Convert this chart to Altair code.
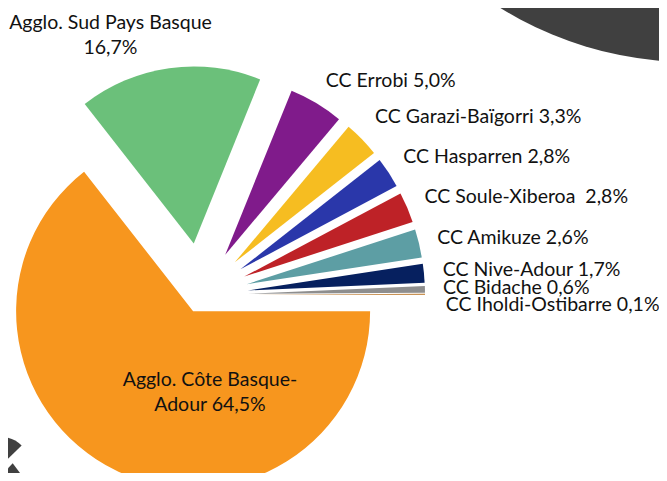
import math
import altair as alt
import pandas as pd

# ---------------- data ----------------
names = [
    "Agglo. Côte Basque-\nAdour",
    "Agglo. Sud Pays Basque",
    "CC Errobi",
    "CC Garazi-Baïgorri",
    "CC Hasparren",
    "CC Soule-Xiberoa\u00a0",
    "CC Amikuze",
    "CC Nive-Adour",
    "CC Bidache",
    "CC Iholdi-Ostibarre",
]
shares = [64.5, 16.7, 5.0, 3.3, 2.8, 2.8, 2.6, 1.7, 0.6, 0.1]
share_labels = ["64,5%", "16,7%", "5,0%", "3,3%", "2,8%", "2,8%", "2,6%", "1,7%", "0,6%", "0,1%"]

# ---------------- styles ----------------
colors = ["#F7961E", "#6BC07A", "#801B8B", "#F6BD21", "#2A37AA", "#BE2227",
          "#5D9EA4", "#06205F", "#8E8E8E", "#B8701E"]
explode = [18, 52, 47, 47, 47, 47, 47, 47, 47, 47]          # px, along mid-angle
label_r = [85.5, 286.7, 248, 249, 245, 244, 243, 243, 242, 245]  # px from pie centre
label_dtheta = [-32.0, -10.4, -0.8, -1.6, -1.25, -0.65, -0.3, -0.35, -0.25, 2.5]
label_sep = [" ", "\n"] + [" "] * 8
label_align = ["center", "center"] + ["left"] * 8
CX, CY, R = 193, 287, 177
FONT = "Lato"
FONT_SIZE = 19.5

df = pd.DataFrame({
    "idx": list(range(len(names))),
    "name": names,
    "share": shares,
    "slabel": share_labels,
    "col": colors,
    "explode": explode,
    "lr": label_r,
    "dth": label_dtheta,
    "sep": label_sep,
    "anchor": label_align,
})

# decoration (slide background shapes)
bg_circle = pd.DataFrame({"cx": [682], "cy": [-306]})
logo = pd.DataFrame({
    "cx": [-6.5, 4.7],
    "cy": [457, 455.3],
    "t0": [-2, 143],
    "t1": [46, 224],
})

base = alt.Chart(df).transform_joinaggregate(
    total="sum(share)"
).transform_window(
    cum="sum(share)", sort=[alt.SortField("idx")], frame=[None, 0]
).transform_calculate(
    start="(datum.cum - datum.share) / datum.total * 2 * PI + PI / 2",
    end="datum.cum / datum.total * 2 * PI + PI / 2",
).transform_calculate(
    mid="(datum.start + datum.end) / 2",
).transform_calculate(
    px=f"{CX} + datum.explode * sin(datum.mid)",
    py=f"{CY} - datum.explode * cos(datum.mid)",
    la="datum.mid + datum.dth * PI / 180",
    label="datum.name + datum.sep + datum.slabel",
).transform_calculate(
    lx=f"{CX} + datum.lr * sin(datum.la)",
    ly=f"{CY} - datum.lr * cos(datum.la)",
)

slices = base.mark_arc(radius=R).encode(
    x=alt.X("px:Q", scale=None, axis=None, stack=None),
    y=alt.Y("py:Q", scale=None, axis=None, stack=None),
    theta=alt.Theta("start:Q", scale=None, stack=None),
    theta2=alt.Theta2("end:Q"),
    color=alt.Color("col:N", scale=None, legend=None),
)

text_kw = dict(baseline="middle", font=FONT, fontSize=FONT_SIZE, color="#111111",
               lineBreak="\n", lineHeight=25)

labels_left = base.transform_filter("datum.anchor == 'left'").mark_text(
    align="left", **text_kw
).encode(
    x=alt.X("lx:Q", scale=None, axis=None, stack=None),
    y=alt.Y("ly:Q", scale=None, axis=None, stack=None),
    text="label:N",
)

labels_center = base.transform_filter("datum.anchor == 'center'").mark_text(
    align="center", **text_kw
).encode(
    x=alt.X("lx:Q", scale=None, axis=None, stack=None),
    y=alt.Y("ly:Q", scale=None, axis=None, stack=None),
    text="label:N",
)

bg = alt.Chart(bg_circle).mark_arc(color="#404040", radius=360, theta=0,
                                   theta2=2 * math.pi).encode(
    x=alt.X("cx:Q", scale=None, axis=None, stack=None),
    y=alt.Y("cy:Q", scale=None, axis=None, stack=None),
)

logo_marks = alt.Chart(logo).transform_calculate(
    a0="datum.t0 * PI / 180", a1="datum.t1 * PI / 180"
).mark_arc(color="#404040", radius=28).encode(
    x=alt.X("cx:Q", scale=None, axis=None, stack=None),
    y=alt.Y("cy:Q", scale=None, axis=None, stack=None),
    theta=alt.Theta("a0:Q", scale=None, stack=None),
    theta2=alt.Theta2("a1:Q"),
)

chart = alt.layer(bg, logo_marks, slices, labels_left, labels_center).properties(
    width=651, height=465, padding=0,
    autosize=alt.AutoSizeParams(type="none"),
).configure_view(strokeWidth=0)

chart.save("out.html", embed_options={"renderer": "svg", "actions": False})
